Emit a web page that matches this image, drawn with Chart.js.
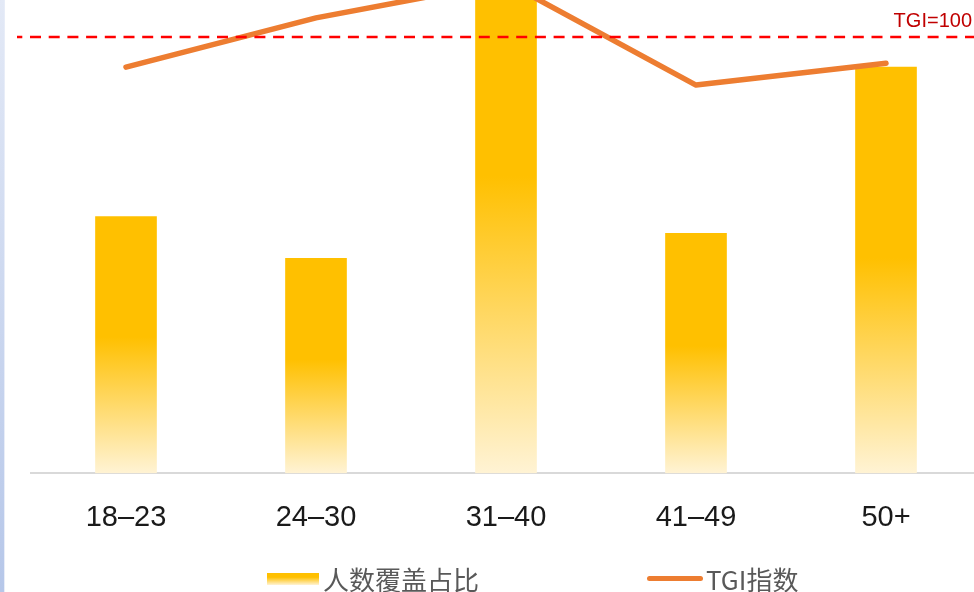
<!DOCTYPE html>
<html>
<head>
<meta charset="utf-8">
<script src="https://cdn.jsdelivr.net/npm/chart.js@4.4.1/dist/chart.umd.min.js"></script>
<style>
  html, body { margin:0; padding:0; background:#fff; width:974px; height:592px; overflow:hidden; }
  .strip { position:absolute; left:0; top:0; width:4px; height:592px;
           background:linear-gradient(180deg,#e3e9f6,#b6c7e9); border-right:1px solid #e8edf8; }
  .wrap { position:absolute; left:0; top:0; width:981px; height:562px; }
  .legend { position:absolute; left:0; top:0; }
  .sw { position:absolute; }
  .sw.bar { left:267px; top:573px; width:52px; height:12px;
            background:linear-gradient(180deg,#FFC000 0%,#FFC000 35%,#FFF3D4 100%); }
  .sw.line { left:647px; top:576px; width:56px; height:5px; border-radius:3px; background:#ED7D31; }
  .lt { position:absolute; top:564px; font:26px/30px "Noto Sans CJK SC", sans-serif; color:#595959; white-space:nowrap; }
</style>
</head>
<body>
<div class="strip"></div>
<div class="wrap"><canvas id="c"></canvas></div>
<div class="legend" id="legend"></div>
<script>
// age groups
const categories = ["18–23", "24–30", "31–40", "41–49", "50+"];
// share of people covered (%)
const coverage = [15.3, 12.8, 33.4, 14.3, 24.2];
// TGI index
const tgi = [93.1, 104.4, 112.6, 89.0, 94.0];
const tgiRef = 100;
const seriesNames = ["人数覆盖占比", "TGI指数"];

function barFill(ctx){
  const chart = ctx.chart;
  const y = chart.scales.y;
  if(!chart.chartArea || ctx.type !== "data" || !y) return "#FFC000";
  const base = y.getPixelForValue(0);
  const top = y.getPixelForValue(ctx.raw);
  const g = chart.ctx.createLinearGradient(0, base, 0, top);
  g.addColorStop(0, "#FFF3D4");
  g.addColorStop(0.53, "#FFC000");
  g.addColorStop(1, "#FFC000");
  return g;
}

const refLine = {
  id: "refLine",
  afterDatasetsDraw(chart){
    const c = chart.ctx;
    const yPix = chart.scales.y2.getPixelForValue(tgiRef);
    c.save();
    c.strokeStyle = "#FF0000";
    c.lineWidth = 2.5;
    c.setLineDash([11, 7.7]);
    c.lineDashOffset = 5.7;
    c.beginPath();
    c.moveTo(chart.chartArea.left - 14, yPix);
    c.lineTo(chart.width, yPix);
    c.stroke();
    c.setLineDash([]);
    c.fillStyle = "#C00000";
    c.font = '20px "Liberation Sans"';
    c.textAlign = "right";
    c.textBaseline = "alphabetic";
    c.fillText("TGI=" + tgiRef, 972, yPix - 10);
    c.restore();
  }
};

new Chart(document.getElementById("c"), {
  type: "bar",
  data: {
    labels: categories,
    datasets: [
      {
        type: "line",
        label: seriesNames[1],
        data: tgi,
        yAxisID: "y2",
        borderColor: "#ED7D31",
        borderWidth: 5.5,
        pointRadius: 0,
        borderCapStyle: "round",
        borderJoinStyle: "round",
        tension: 0,
        order: 0
      },
      {
        label: seriesNames[0],
        data: coverage,
        yAxisID: "y",
        backgroundColor: barFill,
        barThickness: 61,
        order: 1
      }
    ]
  },
  options: {
    responsive: true,
    maintainAspectRatio: false,
    animation: false,
    layout: { padding: { left: 31, right: 0, top: 0, bottom: 0 } },
    plugins: { legend: { display: false }, tooltip: { enabled: false } },
    scales: {
      x: {
        grid: { display: false, drawTicks: false },
        border: { display: true, color: "#d9d9d9", width: 2 },
        ticks: { color: "#1a1a1a", padding: 27, font: { family: "Liberation Sans", size: 29 } }
      },
      y: { display: false, min: 0, max: 28.2 },
      y2: { display: false, min: 0, max: 108.5, position: "right" }
    }
  },
  plugins: [refLine]
});

const legend = document.getElementById("legend");
[["bar", 323], ["line", 706]].forEach(([kind, left], i) => {
  const sw = document.createElement("span");
  sw.className = "sw " + kind;
  legend.appendChild(sw);
  const t = document.createElement("span");
  t.className = "lt";
  t.style.left = left + "px";
  t.textContent = seriesNames[i];
  legend.appendChild(t);
});
</script>
</body>
</html>
